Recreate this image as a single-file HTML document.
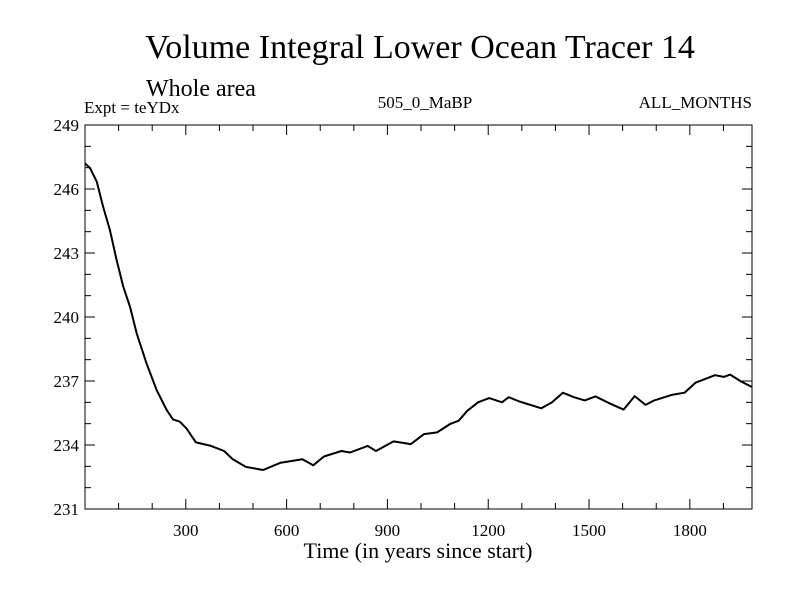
<!DOCTYPE html>
<html><head><meta charset="utf-8"><style>body{margin:0;background:#fff}svg{display:block}text{font-family:"Liberation Serif",serif;fill:#000}</style></head>
<body>
<svg id="chart" width="800" height="600" viewBox="0 0 800 600">
<text x="420" y="58" font-size="34" text-anchor="middle">Volume Integral Lower Ocean Tracer 14</text>
<text x="146" y="96" font-size="24">Whole area</text>
<text x="84" y="113" font-size="17">Expt = teYDx</text>
<text x="425" y="108" font-size="17" text-anchor="middle">505_0_MaBP</text>
<text x="752" y="108" font-size="17" text-anchor="end">ALL_MONTHS</text>
<text x="418" y="558" font-size="22" text-anchor="middle">Time (in years since start)</text>
<rect x="85" y="125" width="667" height="384" fill="none" stroke="#000" stroke-width="1"/>
<g id="axes"></g>
<path id="line" fill="none" stroke="#000" stroke-width="2" stroke-linejoin="round"/>
</svg>
<script>
const years=[0,15,35,54,74,94,114,134,154,183,213,243,262,282,302,330,375,414,440,478,530,582,647,679,711,763,789,841,866,918,970,1009,1048,1086,1112,1138,1170,1203,1241,1261,1293,1358,1390,1422,1455,1487,1519,1564,1603,1636,1668,1694,1746,1784,1817,1875,1901,1920,1952,1985];
const values=[247.2,246.98,246.34,245.17,244.08,242.67,241.42,240.48,239.23,237.83,236.58,235.64,235.2,235.09,234.78,234.12,233.96,233.72,233.33,232.98,232.83,233.17,233.33,233.05,233.46,233.72,233.65,233.96,233.72,234.17,234.04,234.51,234.59,234.98,235.14,235.61,236.0,236.2,236.0,236.24,236.04,235.72,236.0,236.45,236.24,236.09,236.28,235.93,235.66,236.29,235.88,236.09,236.35,236.45,236.92,237.27,237.19,237.3,236.98,236.72];
const xTicks=[300,600,900,1200,1500,1800];
const yTicks=[231,234,237,240,243,246,249];
const X0=85,X1=752,Y0=509,Y1=125,XMAX=1985,YMIN=231,YMAX=249;
const sx=v=>X0+(v/XMAX)*(X1-X0);
const sy=v=>Y0-(v-YMIN)/(YMAX-YMIN)*(Y0-Y1);
const NS='http://www.w3.org/2000/svg';
const g=document.getElementById('axes');
function mk(t,a){const e=document.createElementNS(NS,t);for(const k in a)e.setAttribute(k,a[k]);g.appendChild(e);return e;}
for(let v=100;v<XMAX;v+=100){const big=v%300===0;const x=sx(v);
 const t1=mk('line',{x1:x,x2:x,y1:Y0,y2:Y0-(big?10:6),stroke:'#000'});
 
 
 const t2=mk('line',{x1:x,x2:x,y1:Y1,y2:Y1+(big?10:6),stroke:'#000'});
 
 }
xTicks.forEach(v=>{const t=mk('text',{x:sx(v),y:Y0+27,'font-size':17,'text-anchor':'middle'});t.textContent=v;
 
 });
for(let v=YMIN+1;v<YMAX;v+=1){const big=(v-YMIN)%3===0;const y=sy(v);
 const t1=mk('line',{x1:X0,x2:X0+(big?10:6),y1:y,y2:y,stroke:'#000'});
 
 
 const t2=mk('line',{x1:X1,x2:X1-(big?10:6),y1:y,y2:y,stroke:'#000'});
 
 }
yTicks.forEach(v=>{const t=mk('text',{x:X0-6,y:sy(v)+6,'font-size':17,'text-anchor':'end'});t.textContent=v;
 
 });
document.getElementById('line').setAttribute('d',years.map((yr,i)=>(i?'L':'M')+sx(yr).toFixed(1)+','+sy(values[i]).toFixed(1)).join(''));
</script>
</body></html>
